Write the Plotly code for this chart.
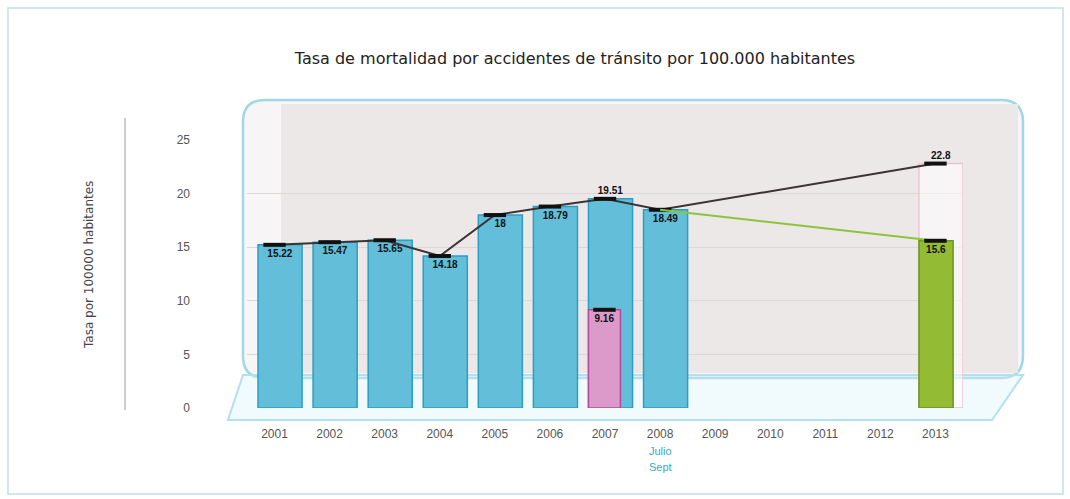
import plotly.graph_objects as go

# ---------------- data ----------------
years = [2001, 2002, 2003, 2004, 2005, 2006, 2007, 2008, 2009, 2010, 2011, 2012, 2013]
year_labels = ["2001", "2002", "2003", "2004", "2005", "2006", "2007", "2008",
               "2009", "2010", "2011", "2012", "2013"]
real_years = [2001, 2002, 2003, 2004, 2005, 2006, 2007, 2008]
tasa_real = [15.22, 15.47, 15.65, 14.18, 18, 18.79, 19.51, 18.49]
parcial_year = [2007]
tasa_parcial = [9.16]
proy_year = [2013]
tasa_proyectada = [22.8]
meta_year = [2013]
tasa_meta = [15.6]

title_text = "Tasa de mortalidad por accidentes de tránsito por 100.000 habitantes"
ytitle_text = "Tasa por 100000 habitantes"

# ---------------- geometry helpers (pixel -> paper) ----------------
W, H = 1070, 499
ML, MR, MT, MB = 247, 107, 140, 91
PW, PH = W - ML - MR, H - MT - MB


def px(x):
    return (x - ML) / PW


def py(y):
    return (H - MB - y) / PH


FONT = "Liberation Sans, Arial, sans-serif"
WIDE = "DejaVu Sans, Verdana, sans-serif"

fig = go.Figure()

# projected 2013 (ghost bar)
fig.add_trace(go.Bar(
    x=proy_year, y=tasa_proyectada, offset=-0.3, width=0.8,
    marker=dict(color="rgba(255,255,255,0.55)", line=dict(color="#efc3d3", width=1.5)),
    text=[f"{v:g}" for v in tasa_proyectada], textposition="outside",
    textfont=dict(color="#111", size=10, family=FONT, weight="bold"),
    cliponaxis=False, showlegend=False, hoverinfo="x+y",
))

# observed rates
fig.add_trace(go.Bar(
    x=real_years, y=tasa_real, offset=-0.3, width=0.8,
    marker=dict(color="#63bfd9", line=dict(color="#2b9ec4", width=1.5)),
    text=[f"{v:g}" for v in tasa_real],
    textposition=["inside"] * 6 + ["outside", "inside"],
    insidetextanchor="end",
    textfont=dict(color="#111", size=10, family=FONT, weight="bold"),
    cliponaxis=False, showlegend=False, hoverinfo="x+y",
))

# partial 2007 (pink)
pink_offset, pink_width = -0.3, 0.58
fig.add_trace(go.Bar(
    x=parcial_year, y=tasa_parcial, offset=pink_offset, width=pink_width,
    marker=dict(color="#dc9acb", line=dict(color="#b84a9e", width=1.5)),
    text=[f"{v:g}" for v in tasa_parcial], textposition="inside", insidetextanchor="end",
    textfont=dict(color="#111", size=10, family=FONT, weight="bold"),
    showlegend=False, hoverinfo="x+y",
))

# goal 2013 (green)
fig.add_trace(go.Bar(
    x=meta_year, y=tasa_meta, offset=-0.3, width=0.62,
    marker=dict(color="#93bb34", line=dict(color="#6e9420", width=1.5)),
    text=[f"{v:g}" for v in tasa_meta], textposition="inside", insidetextanchor="end",
    textfont=dict(color="#111", size=10, family=FONT, weight="bold"),
    showlegend=False, hoverinfo="x+y",
))

cap = dict(symbol="line-ew", size=16, line=dict(color="#111", width=4), color="#111")

# trend line (black)
fig.add_trace(go.Scatter(
    x=real_years + proy_year, y=tasa_real + tasa_proyectada,
    mode="lines+markers", line=dict(color="#3b3436", width=2),
    marker=cap, showlegend=False, cliponaxis=False, hoverinfo="skip",
))

# goal line (green)
fig.add_trace(go.Scatter(
    x=[real_years[-1]] + meta_year, y=[tasa_real[-1]] + tasa_meta,
    mode="lines", line=dict(color="#8cc43c", width=2),
    showlegend=False, hoverinfo="skip",
))
fig.add_trace(go.Scatter(
    x=meta_year, y=tasa_meta, mode="markers", marker=cap,
    showlegend=False, hoverinfo="skip",
))
fig.add_trace(go.Scatter(
    x=[parcial_year[0] + pink_offset + pink_width / 2], y=tasa_parcial,
    mode="markers", marker=dict(symbol="line-ew", size=16, line=dict(color="#111", width=4)),
    showlegend=False, hoverinfo="skip",
))

# ---------------- decorations ----------------
def rounded_path(x0, y0, x1, y1, r):
    X0, X1 = px(x0), px(x1)
    Y0, Y1 = py(y0), py(y1)
    rx, ry = r / PW, r / PH
    return (f"M {X0+rx},{Y0} L {X1-rx},{Y0} Q {X1},{Y0} {X1},{Y0-ry} "
            f"L {X1},{Y1+ry} Q {X1},{Y1} {X1-rx},{Y1} L {X0+rx},{Y1} "
            f"Q {X0},{Y1} {X0},{Y1+ry} L {X0},{Y0-ry} Q {X0},{Y0} {X0+rx},{Y0} Z")


shapes = [
    # outer frame
    dict(type="rect", xref="paper", yref="paper", x0=px(8), x1=px(1063), y0=py(8), y1=py(494),
         line=dict(color="#c9dde6", width=1.5), fillcolor="rgba(0,0,0,0)", layer="below"),
    # chart wall outline
    dict(type="path", xref="paper", yref="paper", path=rounded_path(243, 100, 1023, 378, 22),
         line=dict(color="#a4d6e6", width=2.5), fillcolor="#f7f5f5", layer="below"),
    # back wall
    dict(type="rect", xref="paper", yref="paper", x0=px(281), x1=px(1018), y0=py(104), y1=py(373),
         line=dict(width=0), fillcolor="#ede8e8", layer="below"),
    # floor
    dict(type="path", xref="paper", yref="paper",
         path=f"M {px(243)},{py(375)} L {px(1023)},{py(375)} L {px(992)},{py(420)} L {px(228)},{py(420)} Z",
         line=dict(color="#b3e0ee", width=2), fillcolor="rgba(215,240,248,0.35)", layer="below"),
    # left vertical rule near axis title
    dict(type="line", xref="paper", yref="paper", x0=px(125), x1=px(125), y0=py(118), y1=py(410),
         line=dict(color="#9a9a9a", width=1)),
]

annotations = [
    dict(text=ytitle_text, xref="paper", yref="paper", x=px(80), y=py(265), textangle=-90,
         showarrow=False, font=dict(family=WIDE, size=12, color="#444")),
    dict(text="Julio", xref="x", yref="paper", x=2008, y=py(459), showarrow=False,
         font=dict(family=FONT, size=11, color="#39a7c9")),
    dict(text="Sept", xref="x", yref="paper", x=2008, y=py(475), showarrow=False,
         font=dict(family=FONT, size=11, color="#39a7c9")),
]

fig.update_layout(
    width=W, height=H, autosize=False,
    margin=dict(l=ML, r=MR, t=MT, b=MB, pad=0),
    paper_bgcolor="white", plot_bgcolor="rgba(0,0,0,0)",
    barmode="overlay",
    title=dict(text=title_text, xref="container", yref="container", x=575 / W, y=1 - 58 / H,
               xanchor="center", yanchor="middle",
               font=dict(family=WIDE, size=16, color="#222")),
    xaxis=dict(range=[2000.5, 2013.5], tickmode="array", tickvals=years, ticktext=year_labels,
               showgrid=False, zeroline=False, showline=False, ticks="",
               ticklabelstandoff=17, tickfont=dict(family=FONT, size=12, color="#555")),
    yaxis=dict(range=[0, 25], tickmode="array", tickvals=[0, 5, 10, 15, 20, 25],
               showgrid=True, gridcolor="#ddd7d8", gridwidth=1, zeroline=False, showline=False,
               ticks="", ticklabelstandoff=56, tickfont=dict(family=FONT, size=12, color="#555")),
    shapes=shapes, annotations=annotations, showlegend=False,
)

fig.write_html("out.html", config={"displayModeBar": False},
               post_script="document.body.style.margin='0';")
